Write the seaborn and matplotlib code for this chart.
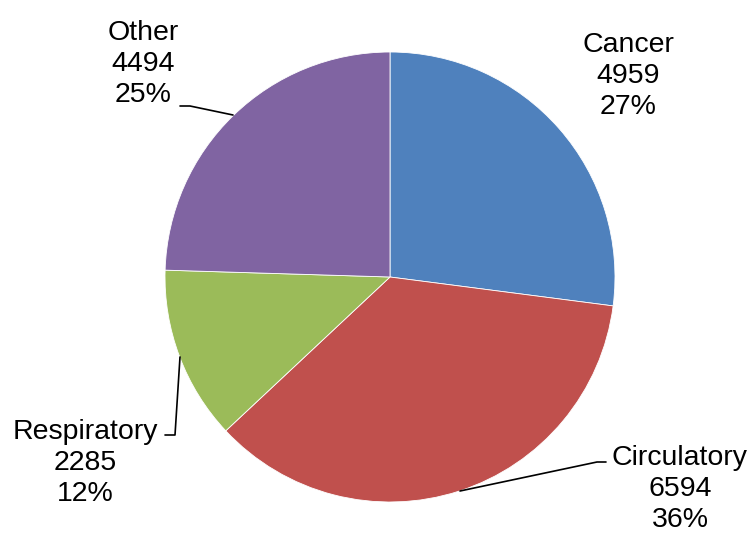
import matplotlib
matplotlib.use("Agg")
import matplotlib.pyplot as plt
import seaborn as sns

sns.set_style("white")
plt.rcParams["font.family"] = ["Liberation Sans", "DejaVu Sans"]

# Deaths by cause
categories = ["Cancer", "Circulatory", "Respiratory", "Other"]
deaths = [4959, 6594, 2285, 4494]
slice_colors = ["#4F81BD", "#C0504D", "#9BBB59", "#8064A2"]

palette = sns.color_palette(slice_colors)

W, H = 753, 534
fig = plt.figure(figsize=(W / 100, H / 100), dpi=100)
ax = fig.add_axes([0, 0, 1, 1])

cx, cy, r = 390, H - 277, 225
ax.pie(deaths, colors=palette, startangle=90, counterclock=False,
       center=(cx, cy), radius=r, frame=True,
       wedgeprops=dict(edgecolor="white", linewidth=0.6))
ax.set_xlim(0, W)
ax.set_ylim(0, H)
ax.set_aspect("equal")
ax.axis("off")

total = sum(deaths)
label_pos = {
    "Cancer": (628, 76),
    "Circulatory": (680, 489),
    "Respiratory": (85, 463),
    "Other": (143, 64),
}
for name, val in zip(categories, deaths):
    x, y = label_pos[name]
    pct = round(100 * val / total)
    ax.text(x, H - y, f"{name}\n{val}\n{pct}%", ha="center", va="center",
            fontsize=20.5, linespacing=1.25, color="black")

# Leader lines
leaders = {
    "Other": [(180, 106), (190, 106), (233, 115)],
    "Respiratory": [(165, 435), (175, 435), (180, 357)],
    "Circulatory": [(606, 462), (597, 462), (460, 491)],
}
for pts in leaders.values():
    xs = [p[0] for p in pts]
    ys = [H - p[1] for p in pts]
    ax.plot(xs, ys, color="black", linewidth=1.2)

fig.savefig("out.png", dpi=100, facecolor="white")
